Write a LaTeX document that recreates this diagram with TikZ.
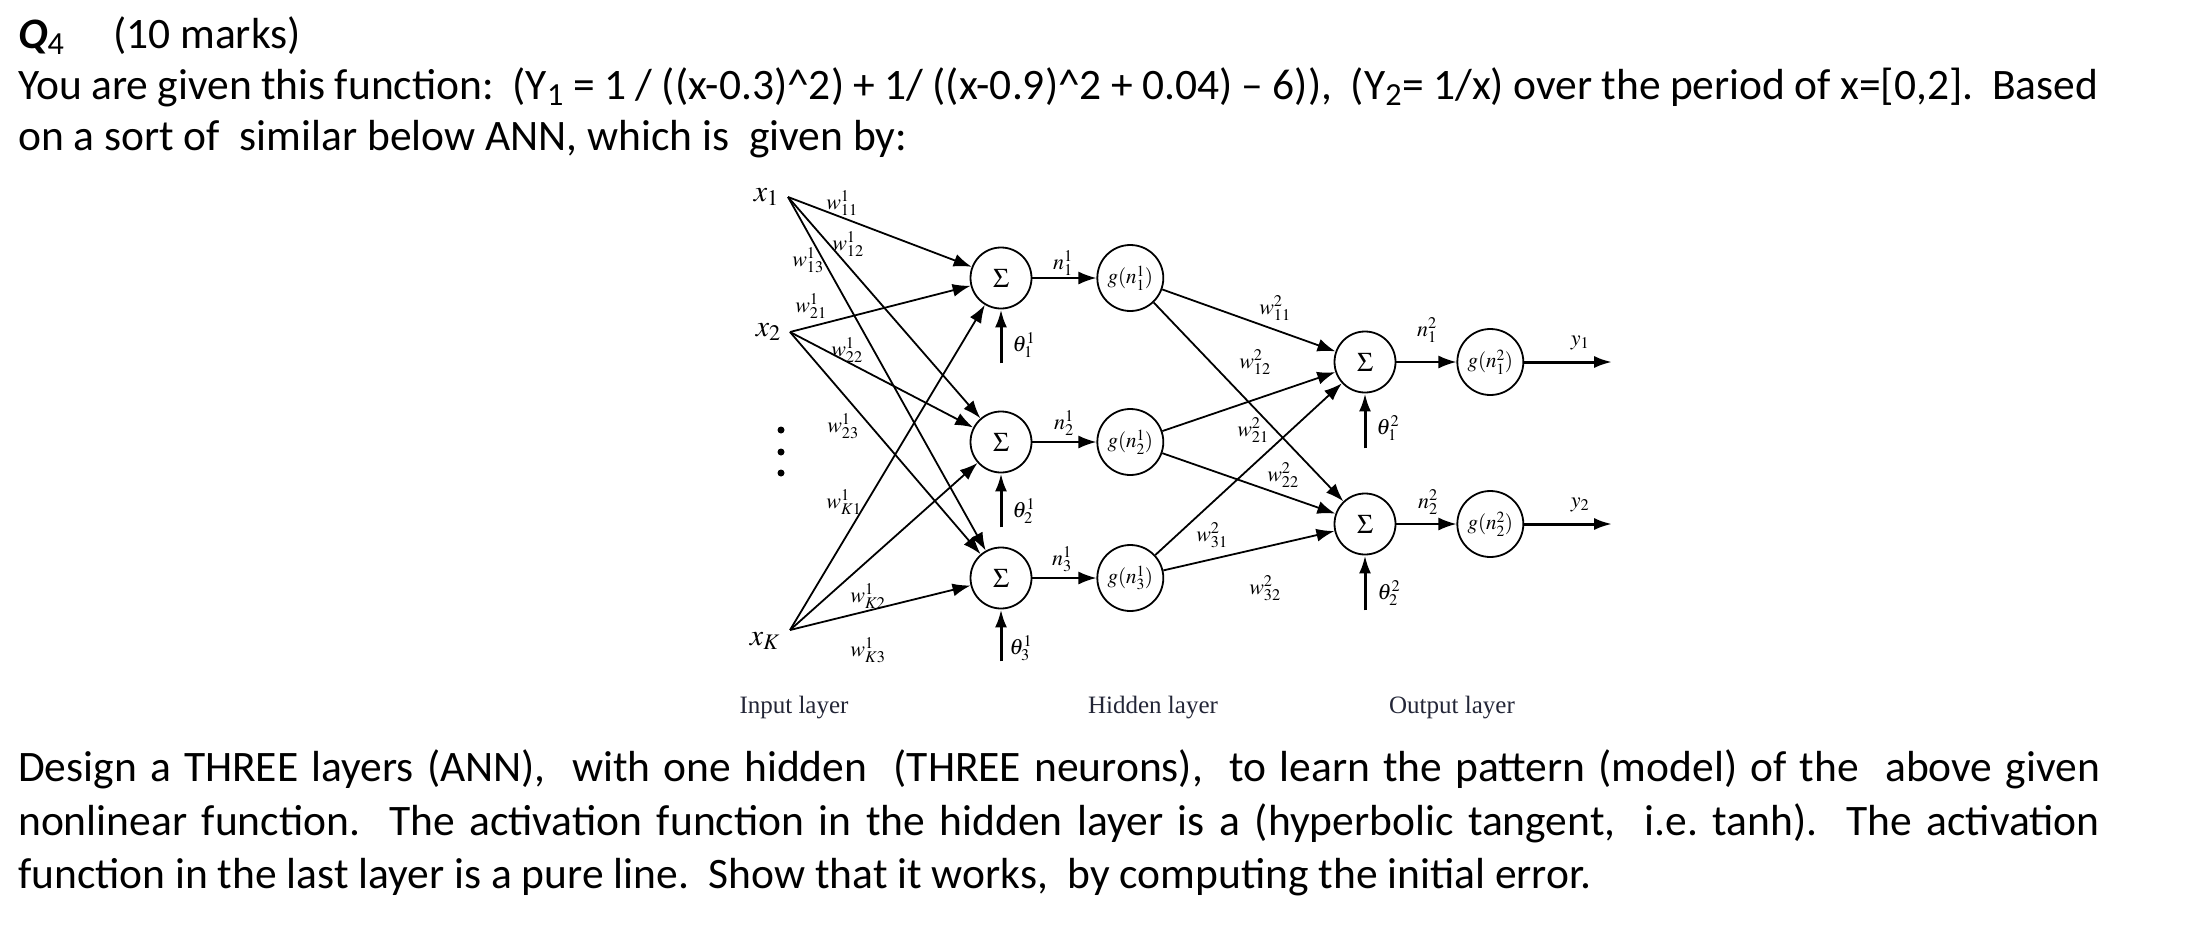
\documentclass[tikz,border=0pt]{standalone}
\usepackage{mathptmx}
\usepackage[no-math]{fontspec}
\setmainfont{Carlito}
\newfontfamily\serifnet{Liberation Serif}
\usetikzlibrary{arrows.meta,positioning}
\definecolor{laycol}{RGB}{35,38,55}

\begin{document}
\begin{tikzpicture}[x=1pt,y=-1pt,
sum/.style={draw,circle,line width=1.8pt,minimum size=61pt,inner sep=0pt,font=\fontsize{27}{27}\selectfont},
act/.style={draw,circle,line width=1.8pt,minimum size=66pt,inner sep=0pt,font=\fontsize{21}{21}\selectfont},
arr/.style={-{Latex[length=18pt,width=13pt]},line width=1.8pt},
barr/.style={-{Latex[length=18pt,width=12pt]},line width=3pt},
wlab/.style={inner sep=0pt,font=\fontsize{22}{22}\selectfont},
inp/.style={inner sep=0pt,font=\fontsize{30}{30}\selectfont},
layer/.style={anchor=base,inner sep=0pt,text=laycol,font=\serifnet\fontsize{25}{25}\selectfont},
txt/.style={anchor=base west,inner sep=0pt,font=\fontsize{43.5}{51}\selectfont\frenchspacing},
vdot/.style={circle,fill,inner sep=0pt,minimum size=7pt}]
\useasboundingbox (0,0) rectangle (2202,926);
% question text
\node[txt] (q) at (18,48) {\textbf{\textit{Q}}\textsubscript{4}};
\node[txt] (marks) at (113,48) {(10 marks)};
\node[txt] (l1) at (18,99) {\makebox[2080pt][s]{You are given this function:~ (Y\textsubscript{1} = 1 / ((x-0.3)\textasciicircum2) + 1/ ((x-0.9)\textasciicircum2 + 0.04) -- 6)),~ (Y\textsubscript{2}= 1/x) over the period of x=[0,2].~ Based}};
\node[txt] (l2) at (18,150) {on a sort of~ similar below ANN, which is~ given by:};
\node[txt] (l3) at (18,781) {\makebox[2082pt][s]{Design a THREE layers (ANN),~ with one hidden~ (THREE neurons),~ to learn the pattern (model) of the~ above given}};
\node[txt] (l4) at (18,835) {\makebox[2082pt][s]{nonlinear function.~ The activation function in the hidden layer is a (hyperbolic tangent,~ i.e. tanh).~ The activation}};
\node[txt] (l5) at (18,888) {function in the last layer is a pure line.~ Show that it works,~ by computing the initial error.};
% input layer
\node[inp,anchor=east,inner xsep=9pt] (x1) at (788,197) {$x_1$};
\node[inp,anchor=east,inner xsep=9pt] (x2) at (790,332) {$x_2$};
\node[inp,anchor=north east,inner xsep=10pt,inner ysep=2pt] (xK) at (790,630) {$x_K$};
\node[vdot] (d1) at (781,430) {}; \node[vdot] (d2) at (781,452) {}; \node[vdot] (d3) at (781,473) {};
% hidden layer
\node[sum] (s1) at (1001,278) {$\Sigma$};
\node[sum] (s2) at (1001,442) {$\Sigma$};
\node[sum] (s3) at (1001,578) {$\Sigma$};
\node[act,right=64pt of s1] (h1) {$g(n^1_1)$};
\node[act,right=64pt of s2] (h2) {$g(n^1_2)$};
\node[act,right=64pt of s3] (h3) {$g(n^1_3)$};
\coordinate[below=54pt of s1] (t1); \coordinate[below=54pt of s2] (t2); \coordinate[below=52pt of s3] (t3);
% output layer
\node[sum] (o1) at (1365,362) {$\Sigma$};
\node[sum] (o2) at (1365,524) {$\Sigma$};
\node[act,right=60pt of o1] (g1) {$g(n^2_1)$};
\node[act,right=60pt of o2] (g2) {$g(n^2_2)$};
\coordinate[below=55pt of o1] (u1); \coordinate[below=55pt of o2] (u2);
\coordinate[right=88pt of g1] (y1e); \coordinate[right=88pt of g2] (y2e);
% connections
\draw[arr] (x1.east)--(s1); \draw[arr] (x1.east)--(s2); \draw[arr] (x1.east)--(s3);
\draw[arr] (x2.east)--(s1); \draw[arr] (x2.east)--(s2); \draw[arr] (x2.east)--(s3);
\draw[arr] (xK.north east)--(s1); \draw[arr] (xK.north east)--(s2); \draw[arr] (xK.north east)--(s3);
\draw[arr] (s1)--(h1); \draw[arr] (s2)--(h2); \draw[arr] (s3)--(h3);
\draw[arr] (h1)--(o1); \draw[arr] (h1)--(o2); \draw[arr] (h2)--(o1);
\draw[arr] (h2)--(o2); \draw[arr] (h3)--(o1); \draw[arr] (h3)--(o2);
\draw[arr] (o1)--(g1); \draw[arr] (o2)--(g2);
\draw[barr] (g1)--(y1e); \draw[barr] (g2)--(y2e);
\draw[barr] (t1)--(s1); \draw[barr] (t2)--(s2); \draw[barr] (t3)--(s3);
\draw[barr] (u1)--(o1); \draw[barr] (u2)--(o2);
% labels
\node[wlab] (w11) at (842,203) {$w^1_{11}$}; \node[wlab] (w12) at (848,244) {$w^1_{12}$};
\node[wlab] (w13) at (808,260) {$w^1_{13}$}; \node[wlab] (w21) at (811,306) {$w^1_{21}$};
\node[wlab] (w22) at (847,350) {$w^1_{22}$}; \node[wlab] (w23) at (843,426) {$w^1_{23}$};
\node[wlab] (wK1) at (844,502) {$w^1_{K1}$}; \node[wlab] (wK2) at (868,596) {$w^1_{K2}$};
\node[wlab] (wK3) at (868,650) {$w^1_{K3}$};
\node[wlab] (v11) at (1275,308) {$w^2_{11}$}; \node[wlab] (v12) at (1255,362) {$w^2_{12}$};
\node[wlab] (v21) at (1253,430) {$w^2_{21}$}; \node[wlab] (v22) at (1283,475) {$w^2_{22}$};
\node[wlab] (v31) at (1212,535) {$w^2_{31}$}; \node[wlab] (v32) at (1265,588) {$w^2_{32}$};
\node[wlab] (n11) at (1063,263) {$n^1_1$}; \node[wlab] (n12) at (1064,423) {$n^1_2$};
\node[wlab] (n13) at (1062,559) {$n^1_3$}; \node[wlab] (n21) at (1427,330) {$n^2_1$};
\node[wlab] (n22) at (1428,502) {$n^2_2$};
\node[wlab] (th11) at (1024,345) {$\theta^1_1$}; \node[wlab] (th12) at (1024,511) {$\theta^1_2$};
\node[wlab] (th13) at (1021,648) {$\theta^1_3$}; \node[wlab] (th21) at (1388,428) {$\theta^2_1$};
\node[wlab] (th22) at (1389,593) {$\theta^2_2$};
\node[wlab] (y1) at (1580,343) {$y_1$}; \node[wlab] (y2) at (1580,505) {$y_2$};
\node[layer] (lin) at (794,713) {Input layer};
\node[layer] (lhid) at (1153,713) {Hidden layer};
\node[layer] (lout) at (1452,713) {Output layer};
\end{tikzpicture}
\end{document}
